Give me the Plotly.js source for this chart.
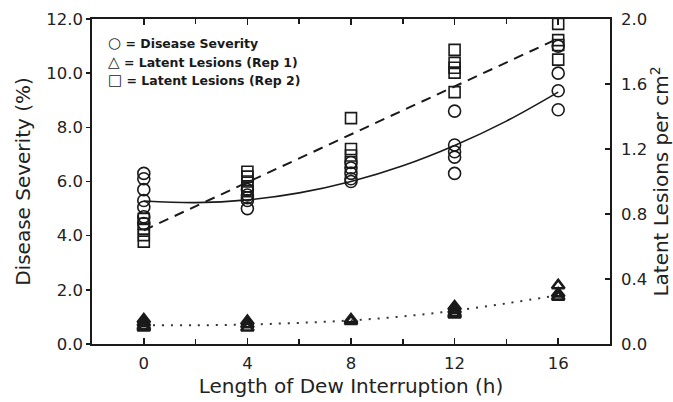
<!DOCTYPE html>
<html>
<head>
<meta charset="utf-8">
<script src="https://cdn.plot.ly/plotly-3.0.1.min.js"></script>
<style>html,body{margin:0;padding:0;background:#fff;}#chart{width:673px;height:402px;}</style>
</head>
<body>
<div id="chart"></div>
<script>
// ---- Data ----
const xTicks = [0, 4, 8, 12, 16];

// Disease severity (%), left axis
const sevHours  = [0,0,0,0,0,0,0, 4,4,4,4,4, 8,8,8,8,8, 12,12,12,12,12, 16,16,16,16];
const sevValues = [6.3,6.1,5.7,5.3,5.05,4.7,4.45, 5.7,5.5,5.4,5.3,5.0, 6.7,6.5,6.3,6.1,6.0, 8.6,7.35,7.1,6.9,6.3, 11.0,10.0,9.35,8.65];

// Latent lesions per cm2 (Rep 1), right axis
const rep1Hours  = [0,0,0,0, 4,4,4, 8,8, 12,12,12,12, 16,16,16];
const rep1Values = [0.15,0.13,0.11,0.10, 0.14,0.12,0.10, 0.15,0.14, 0.23,0.21,0.19,0.18, 0.36,0.31,0.29];

// Latent lesions per cm2 (Rep 2), right axis
const rep2Hours  = [0,0,0,0,0, 4,4,4,4,4, 8,8,8,8, 12,12,12,12,12, 16,16,16,16];
const rep2Values = [0.77,0.74,0.71,0.67,0.63, 1.06,1.03,1.0,0.97,0.94, 1.39,1.2,1.16,1.12, 1.81,1.73,1.70,1.67,1.55, 1.97,1.87,1.84,1.75];

// Fitted curves
const fitHours   = [0, 2, 4, 6, 8, 10, 12, 14, 16];
const sevFit     = [5.28, 5.22, 5.32, 5.58, 6.0, 6.58, 7.33, 8.23, 9.3];
const rep1Fit    = [0.115, 0.115, 0.12, 0.13, 0.145, 0.17, 0.205, 0.25, 0.30];
const rep2FitHrs = [0, 16];
const rep2Fit    = [0.70, 1.88];

const legendSymbols = ['○', '△', '□'];
const legendLabels = ['= Disease Severity', '= Latent Lesions (Rep 1)', '= Latent Lesions (Rep 2)'];

// ---- Chart ----
const ink = '#1a1a1a';
const traces = [
  {x: fitHours, y: sevFit, mode: 'lines', line: {color: ink, width: 1.6, shape: 'spline'}, yaxis: 'y', hoverinfo: 'skip'},
  {x: rep2FitHrs, y: rep2Fit, mode: 'lines', line: {color: ink, width: 2, dash: '10px,7px'}, yaxis: 'y2', hoverinfo: 'skip'},
  {x: fitHours, y: rep1Fit, mode: 'lines', line: {color: '#333', width: 2, dash: '2px,7px', shape: 'spline'}, yaxis: 'y2', hoverinfo: 'skip'},
  {x: sevHours, y: sevValues, mode: 'markers', name: 'Disease Severity', yaxis: 'y',
   marker: {symbol: 'circle-open', size: 12, color: ink, line: {width: 1.6, color: ink}}},
  {x: rep1Hours, y: rep1Values, mode: 'markers', name: 'Latent Lesions (Rep 1)', yaxis: 'y2',
   marker: {symbol: 'triangle-up-open', size: 11, color: ink, line: {width: 2.6, color: ink}}},
  {x: rep2Hours, y: rep2Values, mode: 'markers', name: 'Latent Lesions (Rep 2)', yaxis: 'y2',
   marker: {symbol: 'square-open', size: 11, color: ink, line: {width: 1.6, color: ink}}}
];

const tickFont = {family: 'DejaVu Sans', size: 16.5, color: '#222'};
const titleFont = {family: 'DejaVu Sans', size: 20, color: '#222'};
const legendRowsY = [0.926, 0.868, 0.812];

const layout = {
  width: 673, height: 402,
  margin: {l: 92, r: 63, t: 19, b: 58},
  paper_bgcolor: '#fff', plot_bgcolor: '#fff',
  showlegend: false,
  xaxis: {
    range: [-2, 18], tickvals: xTicks, ticktext: xTicks.map(String),
    ticks: 'inside', ticklen: 6, tickwidth: 1.5, tickcolor: ink,
    minor: {dtick: 2, tick0: 0, ticks: 'inside', ticklen: 5, tickwidth: 1.5, tickcolor: ink},
    showline: true, linewidth: 1.6, linecolor: ink, mirror: 'ticks',
    showgrid: false, zeroline: false, tickfont: tickFont, ticklabelstandoff: 4,
    title: {text: 'Length of Dew Interruption (h)', font: titleFont, standoff: 6}
  },
  yaxis: {
    range: [0, 12], dtick: 2, tick0: 0, tickformat: '.1f',
    ticks: 'outside', ticklen: 4, tickwidth: 1.5, tickcolor: ink,
    showline: true, linewidth: 1.6, linecolor: ink,
    showgrid: false, zeroline: false, tickfont: tickFont,
    title: {text: 'Disease Severity (%)', font: titleFont, standoff: 10}
  },
  yaxis2: {
    range: [0, 2], dtick: 0.4, tick0: 0, tickformat: '.1f',
    overlaying: 'y', side: 'right',
    ticks: 'inside', ticklen: 5, tickwidth: 1.5, tickcolor: ink,
    showline: true, linewidth: 1.6, linecolor: ink,
    showgrid: false, zeroline: false, tickfont: tickFont, ticklabelstandoff: 6,
    title: {text: 'Latent Lesions per cm<sup>2</sup>', font: titleFont, standoff: 8}
  },
  annotations: legendLabels.map((t, i) => ({
    xref: 'paper', yref: 'paper', x: 0.027, y: legendRowsY[i],
    xanchor: 'left', yanchor: 'middle', showarrow: false,
    text: '<span style="font-size:15px">' + legendSymbols[i] + '</span><b> ' + t + '</b>',
    font: {family: 'DejaVu Sans', size: 12.5, color: ink}
  }))
};

Plotly.newPlot('chart', traces, layout, {staticPlot: true, displayModeBar: false});
</script>
</body>
</html>
